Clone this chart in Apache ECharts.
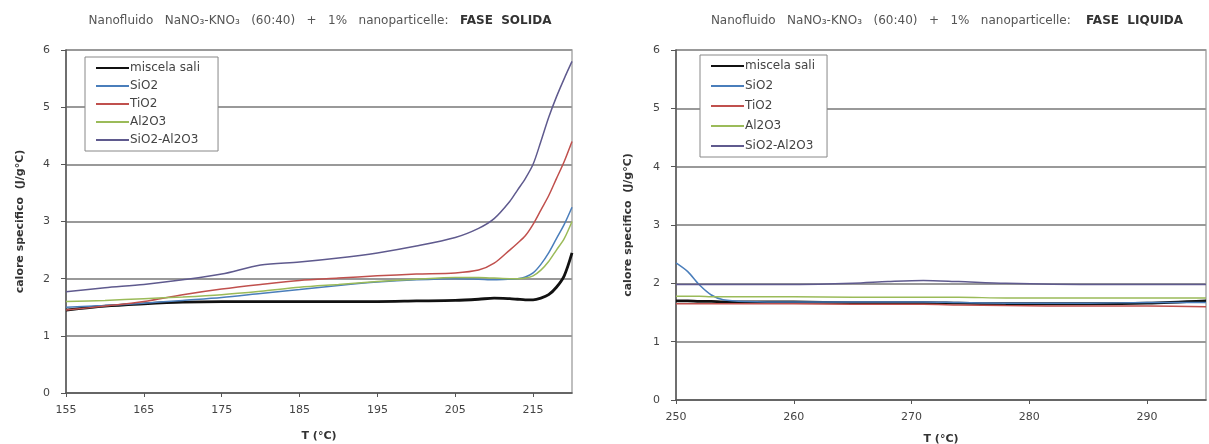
<!DOCTYPE html>
<html>
<head>
<meta charset="utf-8">
<script src="https://cdn.jsdelivr.net/npm/echarts@6/dist/echarts.min.js"></script>
<style>
  html, body { margin: 0; padding: 0; background: #fff; }
  #chart { width: 1209px; height: 444px; }
</style>
</head>
<body>
<div id="chart"></div>
<script>
// nomi delle serie
var names = ['miscela sali', 'SiO2', 'TiO2', 'Al2O3', 'SiO2-Al2O3'];

// fase solida (T in °C, calore specifico in J/g°C)
var tSolid = [155, 160, 165, 170, 175, 180, 185, 190, 195, 200, 205, 208, 210, 212, 213, 214, 215, 216, 217, 218, 219, 220];
var solidMiscela = [1.45, 1.52, 1.56, 1.59, 1.60, 1.60, 1.60, 1.60, 1.60, 1.61, 1.62, 1.64, 1.66, 1.65, 1.64, 1.63, 1.63, 1.66, 1.72, 1.85, 2.05, 2.45];
var solidSiO2 = [1.50, 1.53, 1.57, 1.62, 1.67, 1.74, 1.81, 1.88, 1.94, 1.98, 2.00, 1.99, 1.98, 1.99, 2.00, 2.03, 2.10, 2.25, 2.45, 2.70, 2.95, 3.25];
var solidTiO2 = [1.45, 1.52, 1.60, 1.72, 1.82, 1.90, 1.97, 2.01, 2.05, 2.08, 2.10, 2.15, 2.27, 2.50, 2.62, 2.75, 2.95, 3.20, 3.45, 3.75, 4.05, 4.40];
var solidAl2O3 = [1.60, 1.62, 1.65, 1.68, 1.72, 1.78, 1.85, 1.90, 1.95, 1.99, 2.02, 2.02, 2.01, 2.00, 2.00, 2.01, 2.05, 2.15, 2.30, 2.50, 2.70, 3.00];
var solidMix = [1.77, 1.84, 1.90, 1.98, 2.08, 2.24, 2.29, 2.36, 2.45, 2.57, 2.72, 2.88, 3.05, 3.35, 3.55, 3.75, 4.00, 4.40, 4.82, 5.18, 5.50, 5.80];

// fase liquida
var tLiquid = [250, 251, 252, 253, 254, 256, 260, 265, 268, 271, 274, 278, 285, 290, 295];
var liquidMiscela = [1.70, 1.70, 1.69, 1.69, 1.68, 1.68, 1.68, 1.67, 1.67, 1.67, 1.66, 1.65, 1.65, 1.66, 1.70];
var liquidSiO2 = [2.35, 2.20, 1.97, 1.80, 1.72, 1.69, 1.68, 1.68, 1.68, 1.68, 1.67, 1.66, 1.66, 1.67, 1.67];
var liquidTiO2 = [1.65, 1.65, 1.65, 1.65, 1.65, 1.65, 1.65, 1.64, 1.64, 1.64, 1.63, 1.62, 1.61, 1.61, 1.60];
var liquidAl2O3 = [1.78, 1.78, 1.78, 1.77, 1.77, 1.77, 1.77, 1.76, 1.76, 1.76, 1.76, 1.75, 1.75, 1.75, 1.75];
var liquidMix = [1.98, 1.98, 1.98, 1.98, 1.98, 1.98, 1.98, 2.00, 2.03, 2.05, 2.03, 2.00, 1.98, 1.98, 1.98];

var colors = ['#111111', '#4a7ebb', '#c0504d', '#9bbb59', '#5f5a8e'];
var widths = [2.8, 1.5, 1.5, 1.5, 1.5];
var font = 'DejaVu Sans';

function pairs(t, v) {
  return t.map(function (x, i) { return [x, v[i]]; });
}

function makeSeries(idx, t, values) {
  return values.map(function (v, i) {
    return {
      name: names[i],
      type: 'line',
      xAxisIndex: idx,
      yAxisIndex: idx,
      smooth: 0.3,
      symbol: 'none',
      data: pairs(t, v),
      lineStyle: { color: colors[i], width: widths[i] },
      itemStyle: { color: colors[i] }
    };
  });
}

function xAxis(idx, min, max, margin, gap) {
  return {
    type: 'value', gridIndex: idx, min: min, max: max, interval: 10,
    name: 'T (°C)', nameLocation: 'middle', nameGap: gap,
    nameTextStyle: { fontFamily: font, fontSize: 11, fontWeight: 'bold', color: '#333' },
    axisLine: { lineStyle: { color: '#555', width: 1.5 } },
    axisTick: { show: true, length: 4, lineStyle: { color: '#555' } },
    axisLabel: {
      color: '#444', fontFamily: font, fontSize: 11, margin: margin, showMaxLabel: false,
      formatter: function (v) { return (v - min) % 10 === 0 ? v : ''; }
    },
    splitLine: { show: false }
  };
}

function yAxis(idx, gap) {
  return {
    type: 'value', gridIndex: idx, min: 0, max: 6, interval: 1,
    name: 'calore specifico  (J/g°C)', nameLocation: 'middle', nameGap: gap,
    nameTextStyle: { fontFamily: font, fontSize: 11, fontWeight: 'bold', color: '#333' },
    axisLine: { show: true, lineStyle: { color: '#555', width: 1.5 } },
    axisTick: { show: true, length: 5, lineStyle: { color: '#555' } },
    axisLabel: { color: '#444', fontFamily: font, fontSize: 11, margin: 16 },
    splitLine: { lineStyle: { color: '#999', width: 1.8 } }
  };
}

function legend(left, top, gap, padRight) {
  return {
    orient: 'vertical', left: left, top: top,
    data: names,
    itemWidth: 33, itemHeight: 10, itemGap: gap,
    padding: [5, padRight, 5, 10],
    borderColor: '#888', borderWidth: 1, backgroundColor: '#fff',
    itemStyle: { opacity: 0 },
    textStyle: { fontFamily: font, fontSize: 12, color: '#444', padding: [0, 0, 0, -4] }
  };
}

var titleRich = {
  b: { fontFamily: font, fontSize: 12, fontWeight: 'bold', color: '#333' }
};

var chart = echarts.init(document.getElementById('chart'));
chart.setOption({
  animation: false,
  backgroundColor: '#fff',
  title: [
    {
      text: 'Nanofluido   NaNO₃-KNO₃   (60:40)   +   1%   nanoparticelle:   {b|FASE  SOLIDA}',
      left: 315, top: 10, textAlign: 'center',
      textStyle: { fontFamily: font, fontSize: 12, fontWeight: 'normal', color: '#555', rich: titleRich }
    },
    {
      text: 'Nanofluido   NaNO₃-KNO₃   (60:40)   +   1%   nanoparticelle:    {b|FASE  LIQUIDA}',
      left: 942, top: 10, textAlign: 'center',
      textStyle: { fontFamily: font, fontSize: 12, fontWeight: 'normal', color: '#555', rich: titleRich }
    }
  ],
  legend: [legend(85, 57, 6, 18), legend(700, 55, 8, 12)],
  grid: [
    { left: 66, right: 637, top: 50, bottom: 51, outerBoundsMode: 'none', show: true, borderColor: '#aaa', borderWidth: 1.5 },
    { left: 676, right: 3, top: 50, bottom: 44, outerBoundsMode: 'none', show: true, borderColor: '#aaa', borderWidth: 1.5 }
  ],
  xAxis: [xAxis(0, 155, 220, 12, 38), xAxis(1, 250, 295, 12, 34)],
  yAxis: [yAxis(0, 40), yAxis(1, 42)],
  series: makeSeries(0, tSolid, [solidMiscela, solidSiO2, solidTiO2, solidAl2O3, solidMix])
    .concat(makeSeries(1, tLiquid, [liquidMiscela, liquidSiO2, liquidTiO2, liquidAl2O3, liquidMix]))
});
</script>
</body>
</html>
